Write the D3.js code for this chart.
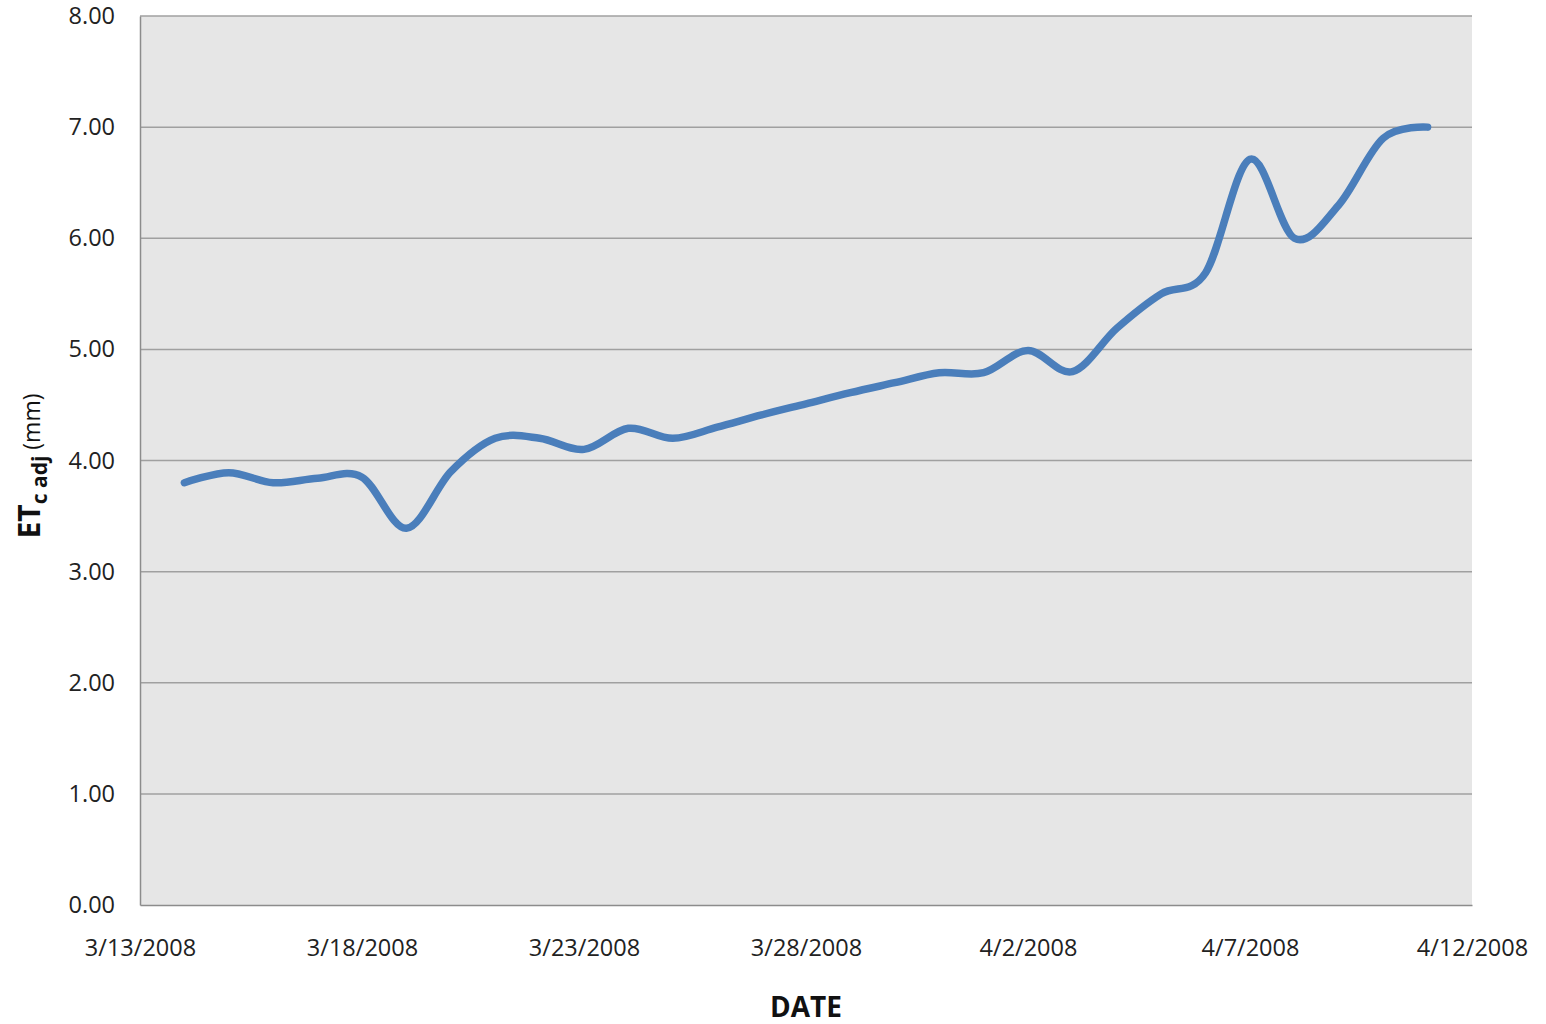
<!DOCTYPE html>
<html><head><meta charset="utf-8">
<script src="https://cdn.jsdelivr.net/npm/d3@7"></script>
<style>body{margin:0;background:#fff;} svg{display:block;font-family:"Open Sans",sans-serif;}</style>
</head><body>
<svg id="chart" width="1546" height="1024"></svg>
<script>
const dates = ["2008-03-14","2008-03-15","2008-03-16","2008-03-17","2008-03-18","2008-03-19","2008-03-20","2008-03-21","2008-03-22","2008-03-23","2008-03-24","2008-03-25","2008-03-26","2008-03-27","2008-03-28","2008-03-29","2008-03-30","2008-03-31","2008-04-01","2008-04-02","2008-04-03","2008-04-04","2008-04-05","2008-04-06","2008-04-07","2008-04-08","2008-04-09","2008-04-10","2008-04-11"];
const etcAdj = [3.80,3.89,3.80,3.84,3.85,3.39,3.90,4.20,4.20,4.10,4.29,4.20,4.30,4.41,4.51,4.61,4.70,4.79,4.79,4.99,4.80,5.19,5.50,5.69,6.71,6.00,6.30,6.90,7.00];
const xTickDates = ["2008-03-13","2008-03-18","2008-03-23","2008-03-28","2008-04-02","2008-04-07","2008-04-12"];
const yTicks = [0,1,2,3,4,5,6,7,8];

const parse = d3.utcParse("%Y-%m-%d");
const fmt = d3.utcFormat("%-m/%-d/%Y");
const data = dates.map((d,i)=>({date:parse(d), v:etcAdj[i]}));

const svg = d3.select("#chart");
const L=140, R=1472, T=16, B=905;
const x = d3.scaleUtc().domain([parse("2008-03-13"), parse("2008-04-12")]).range([L,R]);
const y = d3.scaleLinear().domain([0,8]).range([B,T]);

svg.append("rect").attr("x",L).attr("y",T).attr("width",R-L).attr("height",B-T).attr("fill","#e6e6e6");

// gridlines
svg.append("g").selectAll("line").data(yTicks.filter(t=>t>0)).join("line")
  .attr("x1",L).attr("x2",R).attr("y1",d=>y(d)).attr("y2",d=>y(d))
  .attr("stroke","#a0a0a0").attr("stroke-width",1.5);

// y axis
const yAxis = svg.append("g").attr("transform",`translate(${L},0)`)
  .call(d3.axisLeft(y).tickValues(yTicks).tickFormat(d3.format(".2f")).tickSize(0).tickPadding(25));
yAxis.select(".domain").attr("stroke","#8c8c8c").attr("stroke-width",1.5);
yAxis.selectAll("text").attr("font-size",23.5).attr("fill","#222").attr("font-family","Open Sans");

// x axis
const xAxis = svg.append("g").attr("transform",`translate(0,${B})`)
  .call(d3.axisBottom(x).tickValues(xTickDates.map(parse)).tickFormat(fmt).tickSize(0).tickPadding(34));
xAxis.select(".domain").attr("stroke","#8c8c8c").attr("stroke-width",1.5);
xAxis.selectAll("text").attr("font-size",23.5).attr("fill","#222").attr("font-family","Open Sans");

// line
const line = d3.line().x(d=>x(d.date)).y(d=>y(d.v)).curve(d3.curveCardinal.tension(0));
svg.append("path").datum(data).attr("d",line).attr("fill","none")
  .attr("stroke","#4a7ebb").attr("stroke-width",7.5).attr("stroke-linecap","round").attr("stroke-linejoin","round");

// x title
svg.append("text").attr("x",806).attr("y",1017).attr("text-anchor","middle")
  .attr("font-size",28).attr("font-weight","bold").attr("fill","#111").text("DATE");

// y title
const yt = svg.append("text").attr("transform","translate(40,466) rotate(-90)").attr("text-anchor","middle").attr("fill","#111");
yt.append("tspan").attr("font-size",30).attr("font-weight","bold").text("ET");
yt.append("tspan").attr("font-size",21).attr("font-weight","bold").attr("dy",7).text("c adj");
yt.append("tspan").attr("font-size",23).attr("dy",-7).text(" (mm)");
</script>
</body></html>
